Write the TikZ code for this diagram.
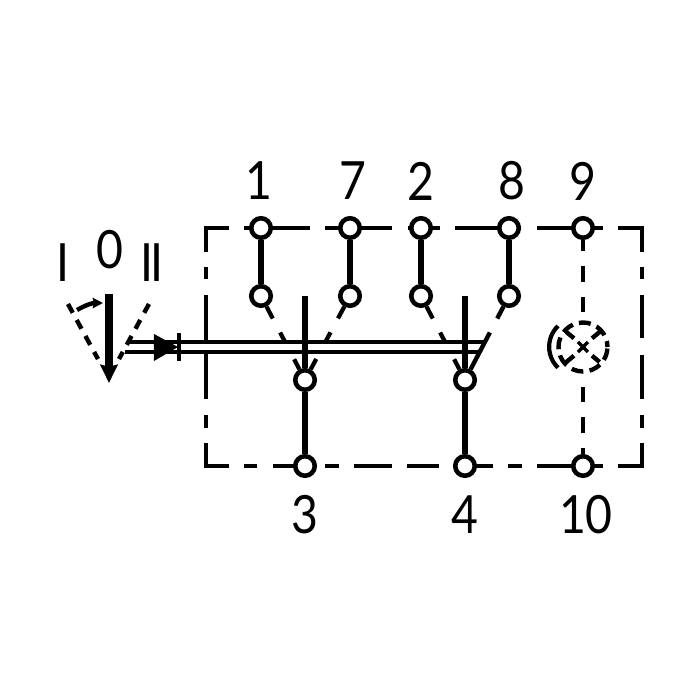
\documentclass[tikz,border=0pt]{standalone}
\usepackage{fontspec}
\usepackage{tikz}
\usetikzlibrary{arrows.meta}
\setmainfont{Lato}[FakeStretch=0.88]
\tikzset{
  pin/.style={circle,draw,fill=white,line width=1.3pt,minimum size=0.195cm,inner sep=0pt},
  box/.style={line width=1pt},
  stem/.style={line width=1.75pt},
  rod/.style={line width=1pt},
  swing/.style={line width=1.25pt},
  leg/.style={line width=1.2pt,dash pattern=on 3.8pt off 4.5pt on 3.2pt off 5.4pt on 4pt off 9pt},
  label/.style={font=\fontsize{15}{15}\selectfont,inner sep=0pt}
}
\begin{document}
\begin{tikzpicture}
           \useasboundingbox (0,0) rectangle (7,7);
           % housing
           \draw[box] (2.06,4.48) -- (2.06,4.72) -- (2.29,4.72) (2.44,4.72) -- (3.10,4.72) (3.25,4.72) -- (3.92,4.72) (4.08,4.72) -- (4.40,4.72) (4.55,4.72) -- (5.21,4.72) (5.37,4.72) -- (6.03,4.72) (6.18,4.72) -- (6.42,4.72) -- (6.42,4.48);
           \draw[box] (2.06,4.33) -- (2.06,4.21) (2.06,4.05) -- (2.06,3.60) (2.06,3.48) -- (2.06,3.01) (2.06,2.85) -- (2.06,2.72);
           \draw[box] (6.42,4.33) -- (6.42,4.21) (6.42,4.05) -- (6.42,3.62) (6.42,3.45) -- (6.42,3.01) (6.42,2.85) -- (6.42,2.72);
           \draw[box] (2.06,2.57) -- (2.06,2.34) -- (2.29,2.34) (2.44,2.34) -- (2.57,2.34) (2.73,2.34) -- (3.00,2.34) (3.25,2.34) -- (3.39,2.34) (3.54,2.34) -- (3.92,2.34) (4.07,2.34) -- (4.39,2.34) (4.65,2.34) -- (4.93,2.34) (5.08,2.34) -- (5.22,2.34) (5.37,2.34) -- (6.03,2.34) (6.18,2.34) -- (6.42,2.34) -- (6.42,2.57);
           % terminals
           \node[pin] (t1) at (2.61,4.72) {};
           \node[pin] (t7) at (3.50,4.72) {};
           \node[pin] (t2) at (4.21,4.72) {};
           \node[pin] (t8) at (5.09,4.72) {};
           \node[pin] (t9) at (5.83,4.72) {};
           \node[pin] (m1) at (2.61,4.04) {};
           \node[pin] (m7) at (3.50,4.04) {};
           \node[pin] (m2) at (4.21,4.04) {};
           \node[pin] (m8) at (5.09,4.04) {};
           \node[pin] (s3) at (3.05,3.20) {};
           \node[pin] (s4) at (4.65,3.20) {};
           \node[pin] (t3) at (3.05,2.34) {};
           \node[pin] (t4) at (4.65,2.34) {};
           \node[pin] (t10) at (5.83,2.34) {};
           % numbers
           \node[label] (n1) at (2.59,5.19) {1};
           \node[label] (n7) at (3.53,5.19) {7};
           \node[label] (n2) at (4.21,5.19) {2};
           \node[label] (n8) at (5.12,5.19) {8};
           \node[label] (n9) at (5.83,5.19) {9};
           \node[label] (n3) at (3.05,1.85) {3};
           \node[label] (n4) at (4.65,1.85) {4};
           \node[label] (n10) at (5.86,1.85) {10};
           \node[label] (posI) at (0.63,4.37) {I};
           \node[label] (pos0) at (1.10,4.50) {0};
           \node[label] (posII) at (1.52,4.37) {I\kern-0.6pt I};
           % contacts
           \draw[stem] (t1) -- (m1);
           \draw[stem] (t7) -- (m7);
           \draw[line width=1.5pt] (t2) -- (m2);
           \draw[line width=1.5pt] (t8) -- (m8);
           \coordinate (c3) at (3.05,4.04);
           \coordinate (c4) at (4.65,4.04);
           \draw[line width=1.5pt] (c3) -- (s3);
           \draw[line width=1.5pt] (c4) -- (s4);
           \draw[line width=1.5pt] (s3) -- (t3);
           \draw[line width=1.5pt] (s4) -- (t4);
           \draw[leg] (m1) -- (s3);
           \draw[leg] (m7) -- (s3);
           \draw[leg] (m2) -- (s4);
           \draw[swing,dash pattern=on 3.8pt off 4.5pt on 100pt] (m8) -- (s4);
           % actuator rod
           \coordinate (rodA) at (1.28,3.58);
           \coordinate (rodB) at (4.84,3.58);
           \coordinate (rodC) at (1.25,3.48);
           \coordinate (rodD) at (4.78,3.48);
           \draw[rod] (rodA) -- (rodB);
           \draw[rod] (rodC) -- (rodD);
           \fill (1.54,3.66) -- (1.78,3.53) -- (1.54,3.39) -- cycle;
           \draw[rod] (1.79,3.67) -- (1.79,3.39);
           % lever
           \coordinate (lever) at (1.09,4.06);
           \coordinate (levertip) at (1.09,3.17);
           \draw[line width=2pt,-{Stealth[length=5.2pt,width=4.9pt,inset=0.6pt]}] (lever) -- (levertip);
           \draw[swing,dash pattern=on 2.85pt off 2.33pt] (0.68,3.96) -- (0.98,3.41);
           \draw[swing,dash pattern=on 2.85pt off 2.33pt] (1.49,3.96) -- (1.19,3.41);
           \draw[swing,-{Stealth[length=2.9pt,width=2.9pt,inset=0.3pt]}] (0.77,3.90) to[bend left=15] (1.03,3.97);
           % lamp
           \node[circle,draw,swing,minimum size=0.49cm,inner sep=0pt,dash pattern=on 3.4pt off 1.8pt,dash phase=1.7pt] (lamp) at (5.83,3.53) {};
           \draw[rod,dash pattern=on 3.1pt off 4.3pt on 4.5pt off 4.3pt on 4.3pt off 20pt] (t9) -- (lamp);
           \draw[rod,dash pattern=on 0pt off 3.8pt on 4.3pt off 4.3pt on 4.5pt off 4.3pt on 5pt] (lamp) -- (t10);
           \draw[swing] (5.664,3.68) -- (5.74,3.617);
           \draw[swing] (5.996,3.68) -- (5.92,3.617);
           \draw[swing] (5.664,3.38) -- (5.74,3.443);
           \draw[swing] (5.996,3.38) -- (5.92,3.443);
           \draw[line width=1pt] (5.78,3.48) -- (5.88,3.58);
           \draw[line width=1pt] (5.78,3.58) -- (5.88,3.48);
           \draw[line width=1.2pt] (5.58,3.74) arc (134:226:0.29);
         \end{tikzpicture}
\end{document}
